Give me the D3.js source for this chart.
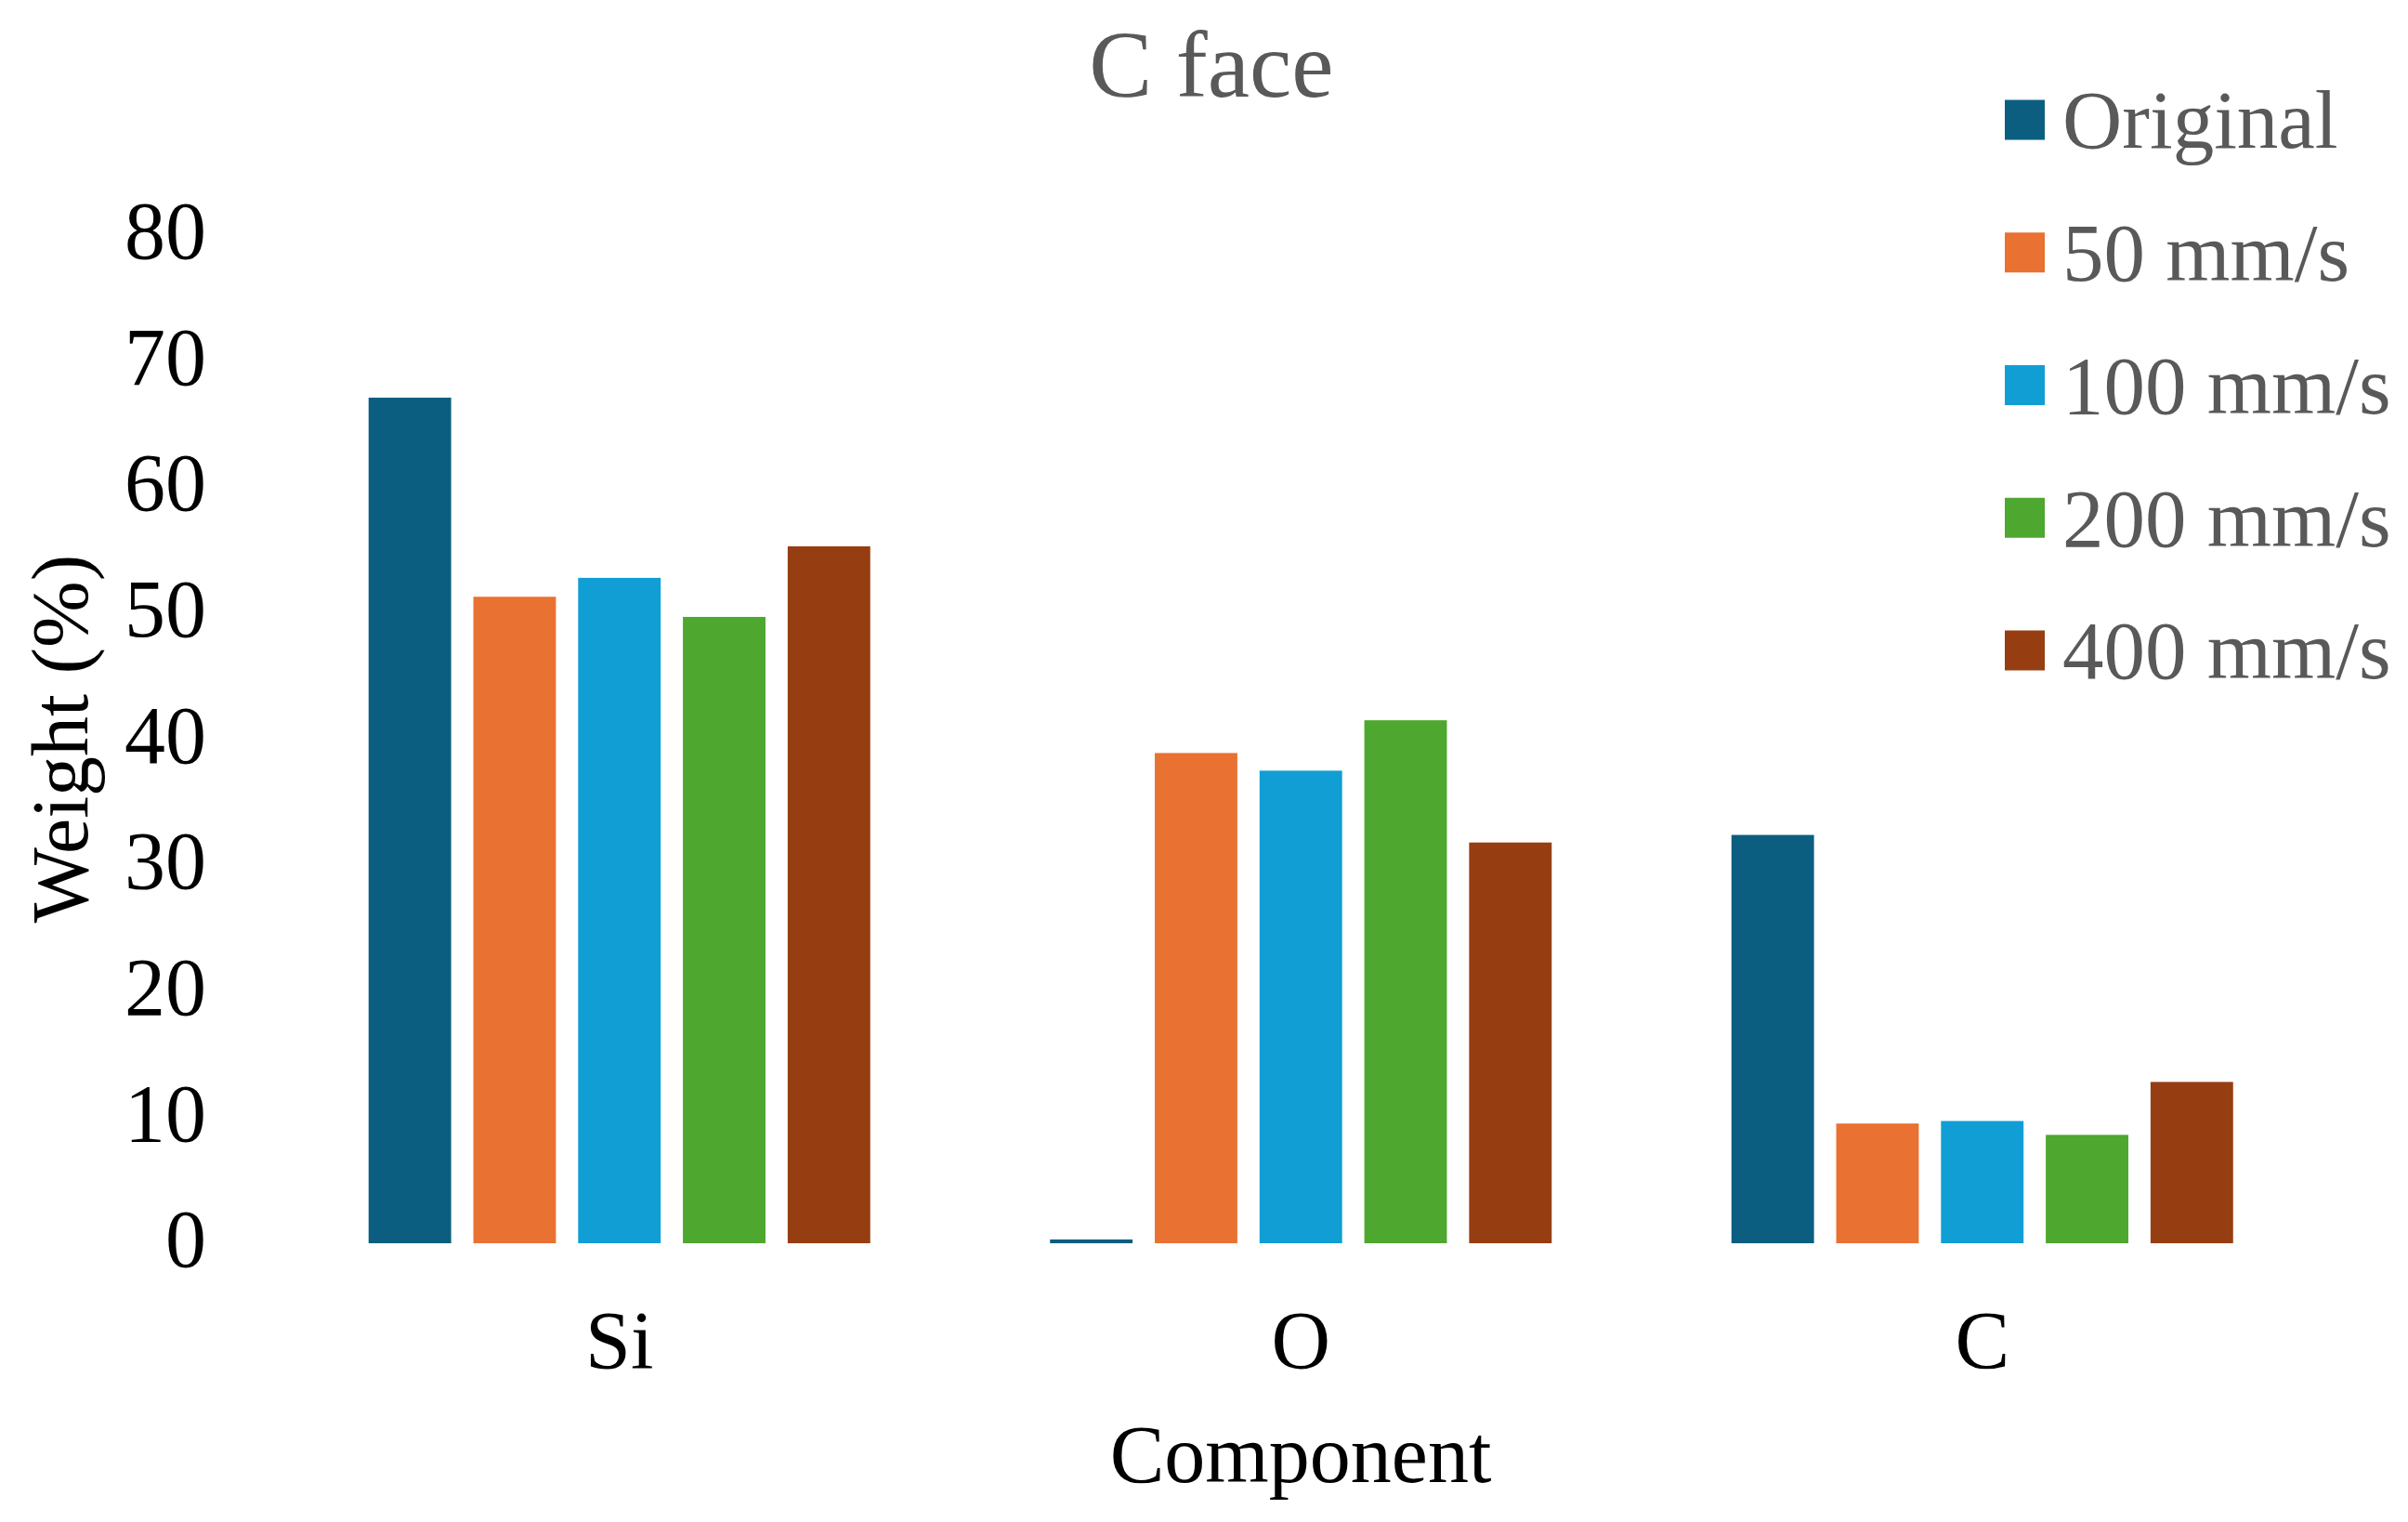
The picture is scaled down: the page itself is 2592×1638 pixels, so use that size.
<!DOCTYPE html>
<html>
<head>
<meta charset="utf-8">
<script src="https://cdn.jsdelivr.net/npm/d3@7"></script>
<style>
  html, body { margin: 0; padding: 0; background: #ffffff; }
  svg { display: block; }
  text { font-family: "Liberation Serif", "Times New Roman", serif; }
</style>
</head>
<body>
<script>
// ---- data ----
const categories = ["Si", "O", "C"];
const seriesNames = ["Original", "50 mm/s", "100 mm/s", "200 mm/s", "400 mm/s"];
const original = [67.1, 0.3, 32.4];
const speed50 = [51.3, 38.9, 9.5];
const speed100 = [52.8, 37.5, 9.7];
const speed200 = [49.7, 41.5, 8.6];
const speed400 = [55.3, 31.8, 12.8];
const seriesColors = ["#0c5e80", "#e97132", "#109ed5", "#4ea72e", "#963e11"];
const yTicks = [0, 10, 20, 30, 40, 50, 60, 70, 80];
const titleText = "C face";
const xTitle = "Component";
const yTitle = "Weight (%)";

const seriesValues = [original, speed50, speed100, speed200, speed400];

// ---- layout ----
const W = 2592, H = 1638;
const svg = d3.select("body").append("svg").attr("width", W).attr("height", H);

const y = d3.scaleLinear().domain([0, 80]).range([1338, 253]);
const x0 = d3.scaleBand().domain(categories).range([300, 2500.5])
  .paddingInner(0.2638).paddingOuter(0.1319);
const x1 = d3.scaleBand().domain(seriesNames).range([0, x0.bandwidth()])
  .paddingInner(0.212).paddingOuter(0);
const color = d3.scaleOrdinal().domain(seriesNames).range(seriesColors);

// title
svg.append("text")
  .attr("x", 1304).attr("y", 104)
  .attr("text-anchor", "middle")
  .attr("font-size", 102)
  .attr("fill", "#595959")
  .text(titleText);

// y axis
const yAxis = svg.append("g")
  .attr("transform", "translate(222,0)")
  .call(d3.axisLeft(y).tickValues(yTicks).tickSize(0).tickPadding(0).tickFormat(d3.format("d")));
yAxis.select(".domain").remove();
yAxis.selectAll("text")
  .attr("font-size", 88)
  .attr("dy", "0.28em")
  .attr("fill", "#000")
  .attr("font-family", "Liberation Serif, serif");

// x axis
const xAxis = svg.append("g")
  .attr("transform", "translate(0,1338)")
  .call(d3.axisBottom(x0).tickSize(0).tickPadding(72));
xAxis.select(".domain").remove();
xAxis.selectAll("text")
  .attr("font-size", 88)
  .attr("fill", "#000")
  .attr("font-family", "Liberation Serif, serif");

// bars
const groups = svg.append("g").selectAll("g")
  .data(categories)
  .join("g")
  .attr("transform", d => `translate(${x0(d)},0)`);

groups.selectAll("rect")
  .data((c, ci) => seriesNames.map((s, si) => ({ s, v: seriesValues[si][ci] })))
  .join("rect")
  .attr("x", d => x1(d.s))
  .attr("width", x1.bandwidth())
  .attr("y", d => y(d.v))
  .attr("height", d => y(0) - y(d.v))
  .attr("fill", d => color(d.s));

// axis titles
svg.append("text")
  .attr("x", 1400).attr("y", 1595)
  .attr("text-anchor", "middle")
  .attr("font-size", 88)
  .attr("fill", "#000")
  .text(xTitle);

svg.append("text")
  .attr("transform", "translate(94,795) rotate(-90)")
  .attr("text-anchor", "middle")
  .attr("font-size", 86)
  .attr("fill", "#000")
  .text(yTitle);

// legend
const legendY = d3.scalePoint().domain(seriesNames).range([129, 700]);
const legend = svg.append("g").selectAll("g")
  .data(seriesNames)
  .join("g")
  .attr("transform", d => `translate(2158,${legendY(d)})`);
legend.append("rect")
  .attr("x", 0).attr("y", -21.5)
  .attr("width", 43).attr("height", 43)
  .attr("fill", d => color(d));
legend.append("text")
  .attr("x", 62).attr("y", 0).attr("dy", "0.34em")
  .attr("font-size", 89)
  .attr("fill", "#595959")
  .text(d => d);
</script>
</body>
</html>
